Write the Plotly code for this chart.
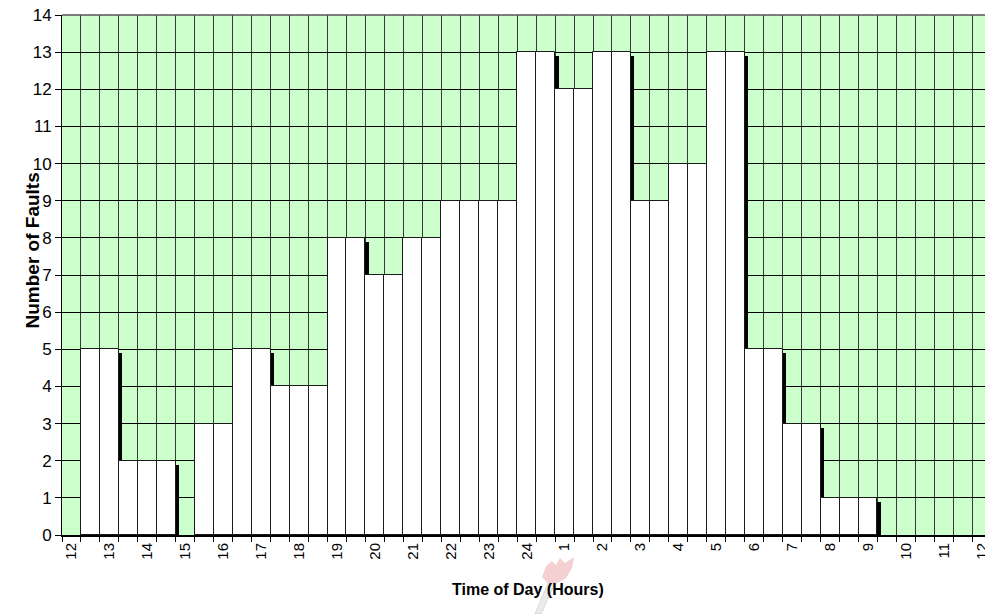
import plotly.graph_objects as go

# Hour labels, one per hour, starting at 12 noon
hour_labels = ["12", "13", "14", "15", "16", "17", "18", "19", "20", "21", "22", "23", "24",
               "1", "2", "3", "4", "5", "6", "7", "8", "9", "10", "11", "12"]

# Number of faults in each half-hour slot (two slots per hour)
faults = [0, 5, 5, 2, 2, 2, 0, 3, 3, 5, 5, 4, 4, 4, 8, 8, 7, 7, 8, 8,
          9, 9, 9, 9, 13, 13, 12, 12, 13, 13, 9, 9, 10, 10, 13, 13, 5, 5, 3, 3,
          1, 1, 1, 0, 0, 0, 0, 0, 0, 0]

slots = list(range(len(faults)))
hour_pos = [2 * i for i in range(len(hour_labels))]

W, H = 985, 614
ML, MR, MT, MB = 62, 0, 15, 79
X_END = 48.17          # chart continues past the right edge
Y_MAX = 14
slot_px = (W - ML - MR) / (X_END + 0.5)
unit_px = (H - MT - MB) / Y_MAX

# drop shadow offset (right / down) in data units
sdx = 3.5 / slot_px
sdy = 4.0 / unit_px

bx = [s for s, v in zip(slots, faults) if v > 0]
by = [v for v in faults if v > 0]

FONT = "Liberation Sans, Arial, sans-serif"

fig = go.Figure()
fig.add_trace(go.Bar(
    x=[s + sdx for s in bx], y=by, base=[-sdy] * len(by), width=1,
    marker=dict(color="black", line=dict(width=0)),
    hoverinfo="skip", showlegend=False,
))
fig.add_trace(go.Bar(
    x=bx, y=by, width=1,
    marker=dict(color="white", line=dict(color="#1a1a1a", width=1)),
    showlegend=False,
))


def px_x(p):
    return (p - ML) / (W - ML - MR)


def px_y(p):
    return (H - MB - p) / (H - MT - MB)


def poly(points):
    return "M " + " L ".join(f"{px_x(a):.5f},{px_y(b):.5f}" for a, b in points) + " Z"


# faint torch logo under the axis labels
flame = [(542, 577), (546, 566), (552, 561), (556, 565), (560, 558), (565, 563), (574, 557),
         (572, 568), (566, 578), (557, 583), (548, 583)]
handle = [(548, 583), (555, 583), (541, 614), (535, 614)]
shapes = [
    dict(type="path", xref="paper", yref="paper", path=poly(handle),
         fillcolor="rgba(190,190,190,0.30)", line=dict(color="rgba(150,150,150,0.35)", width=0.8),
         layer="below"),
    dict(type="path", xref="paper", yref="paper", path=poly(flame),
         fillcolor="rgba(225,120,130,0.35)", line=dict(width=0), layer="below"),
    # thin top border of the plot area
    dict(type="line", xref="paper", yref="paper", x0=0, x1=1, y0=1, y1=1,
         line=dict(color="#555555", width=1.5)),
]

fig.update_layout(
    width=W, height=H,
    margin=dict(l=ML, r=MR, t=MT, b=MB, pad=0, autoexpand=False),
    paper_bgcolor="white",
    plot_bgcolor="#CCFFCC",
    barmode="overlay",
    bargap=0,
    font=dict(family=FONT, color="black"),
    shapes=shapes,
    xaxis=dict(
        range=[-0.5, X_END], automargin=False,
        tickmode="array", tickvals=hour_pos, ticktext=hour_labels,
        tickangle=-90, ticks="", showgrid=False, ticklabeloverflow="allow",
        tickfont=dict(size=15, family=FONT),
        minor=dict(tickmode="array", tickvals=[s - 0.5 for s in slots] + [len(slots) - 0.5],
                   showgrid=True, gridcolor="#3a3a3a", gridwidth=1,
                   ticks="outside", ticklen=5, tickcolor="black", tickwidth=1),
        showline=True, linecolor="black", linewidth=2, mirror=False,
        zeroline=False, fixedrange=True,
    ),
    yaxis=dict(
        range=[0, Y_MAX], dtick=1, tick0=0, automargin=False,
        showgrid=True, gridcolor="black", gridwidth=1,
        ticks="outside", ticklen=6, tickcolor="black",
        tickfont=dict(size=17, family=FONT),
        showline=True, linecolor="black", linewidth=1,
        zeroline=False, fixedrange=True,
    ),
    annotations=[
        dict(text="<b>Number of Faults</b>", textangle=-90, xref="paper", yref="paper",
             x=px_x(19), y=px_y(251), showarrow=False, font=dict(size=19, family=FONT)),
        dict(text="<b>Time of Day (Hours)</b>", xref="paper", yref="paper",
             x=px_x(528), y=px_y(600), showarrow=False, font=dict(size=16, family=FONT)),
    ],
)

fig.write_html("out.html")
